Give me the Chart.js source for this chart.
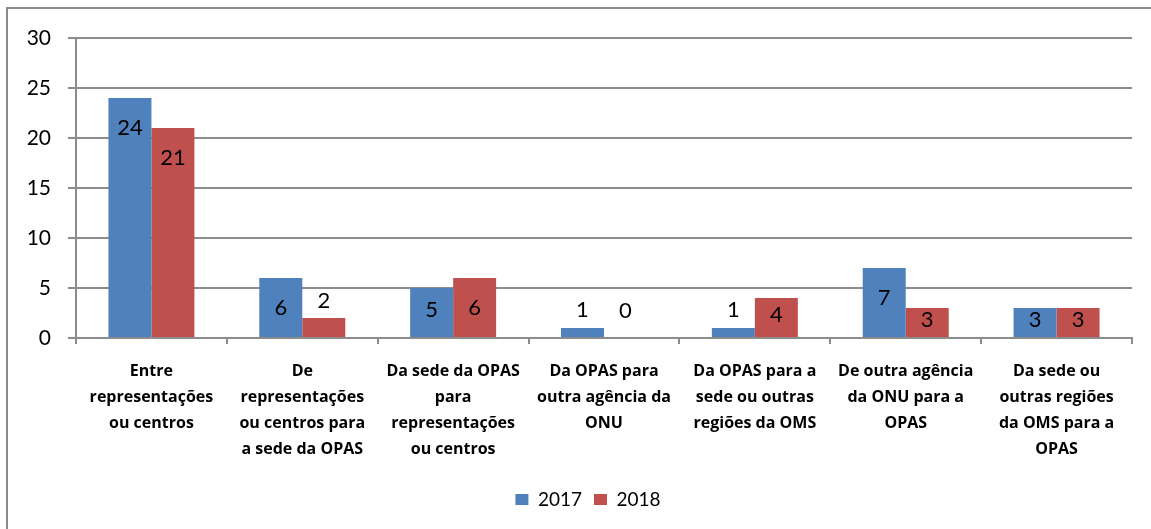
<!DOCTYPE html>
<html>
<head>
<meta charset="utf-8">
<script src="https://cdn.jsdelivr.net/npm/chart.js@4/dist/chart.umd.min.js"></script>
<style>
  body { margin: 0; background: #fff; }
  #wrap { position: relative; width: 1151px; height: 529px; overflow: hidden; }
  #moldura { position: absolute; left: 6px; top: 7px; width: 1200px; height: 600px;
             border-left: 2px solid #8c8c8c; border-top: 2px solid #8c8c8c; }
  canvas { position: absolute; left: 0; top: 0; }
</style>
</head>
<body>
<div id="wrap">
  <div id="moldura"></div>
  <canvas id="grafico" width="1151" height="529"></canvas>
</div>
<script>
const categorias = [
  ['Entre', 'representações', 'ou centros'],
  ['De', 'representações', 'ou centros para', 'a sede da OPAS'],
  ['Da sede da OPAS', 'para', 'representações', 'ou centros'],
  ['Da OPAS para', 'outra agência da', 'ONU'],
  ['Da OPAS para a', 'sede ou outras', 'regiões da OMS'],
  ['De outra agência', 'da ONU para a', 'OPAS'],
  ['Da sede ou', 'outras regiões', 'da OMS para a', 'OPAS']
];
const valores2017 = [24, 6, 5, 1, 1, 7, 3];
const valores2018 = [21, 2, 6, 0, 4, 3, 3];
const ticksY = [0, 5, 10, 15, 20, 25, 30];

const corGrade = '#8c8c8c';

// rotulos dos valores, aproximando a posicao usada no original
const rotulos = {
  id: 'rotulos',
  afterLayout(chart) {
    // legenda do original fica um pouco deslocada para a direita
    chart.legend.left += 22;
    chart.legend.right += 22;
  },
  afterDatasetsDraw(chart) {
    const ctx = chart.ctx;
    ctx.save();
    ctx.font = '22px Lato';
    ctx.fillStyle = '#000';
    ctx.textAlign = 'center';
    ctx.textBaseline = 'middle';
    chart.data.datasets.forEach((ds, di) => {
      chart.getDatasetMeta(di).data.forEach((bar, i) => {
        const v = ds.data[i];
        const topo = bar.y;
        const base = bar.base;
        let y;
        if (v >= 6) y = topo + 30;
        else if (v >= 3) y = (topo + base) / 2 - 3;
        else y = Math.min(topo - 17, base - 27);
        ctx.fillText(String(v), bar.x, y);
      });
    });
    ctx.restore();
  }
};

const ctx = document.getElementById('grafico').getContext('2d');
new Chart(ctx, {
  type: 'bar',
  data: {
    labels: categorias,
    datasets: [
      { label: '2017', data: valores2017, backgroundColor: '#4F81BD', borderWidth: 0 },
      { label: '2018', data: valores2018, backgroundColor: '#C0504D', borderWidth: 0 }
    ]
  },
  options: {
    responsive: false,
    animation: false,
    layout: { padding: { left: 0, right: 19, top: 38, bottom: 10 } },
    datasets: { bar: { categoryPercentage: 0.57, barPercentage: 1 } },
    scales: {
      x: {
        grid: { drawOnChartArea: false, drawTicks: true, tickLength: 6, color: corGrade, lineWidth: 2, offset: true },
        border: { color: corGrade, width: 2 },
        ticks: {
          autoSkip: false, maxRotation: 0, minRotation: 0, color: '#000', padding: 14,
          font: { family: 'Open Sans', size: 16, weight: 'bold', lineHeight: 1.63 }
        },
        afterFit(scale) { scale.height = 140; }
      },
      y: {
        min: 0, max: 30,
        afterBuildTicks(scale) { scale.ticks = ticksY.map(v => ({ value: v })); },
        grid: { color: corGrade, lineWidth: 2, tickLength: 8 },
        border: { color: corGrade, width: 2 },
        ticks: { color: '#000', padding: 17, font: { family: 'Lato', size: 21 } },
        afterFit(scale) { scale.width = 76; }
      }
    },
    plugins: {
      legend: {
        position: 'bottom',
        labels: {
          boxWidth: 13, boxHeight: 11, padding: 12, color: '#000',
          font: { family: 'Lato', size: 19 }
        }
      },
      tooltip: { enabled: false }
    }
  },
  plugins: [rotulos]
});
</script>
</body>
</html>
